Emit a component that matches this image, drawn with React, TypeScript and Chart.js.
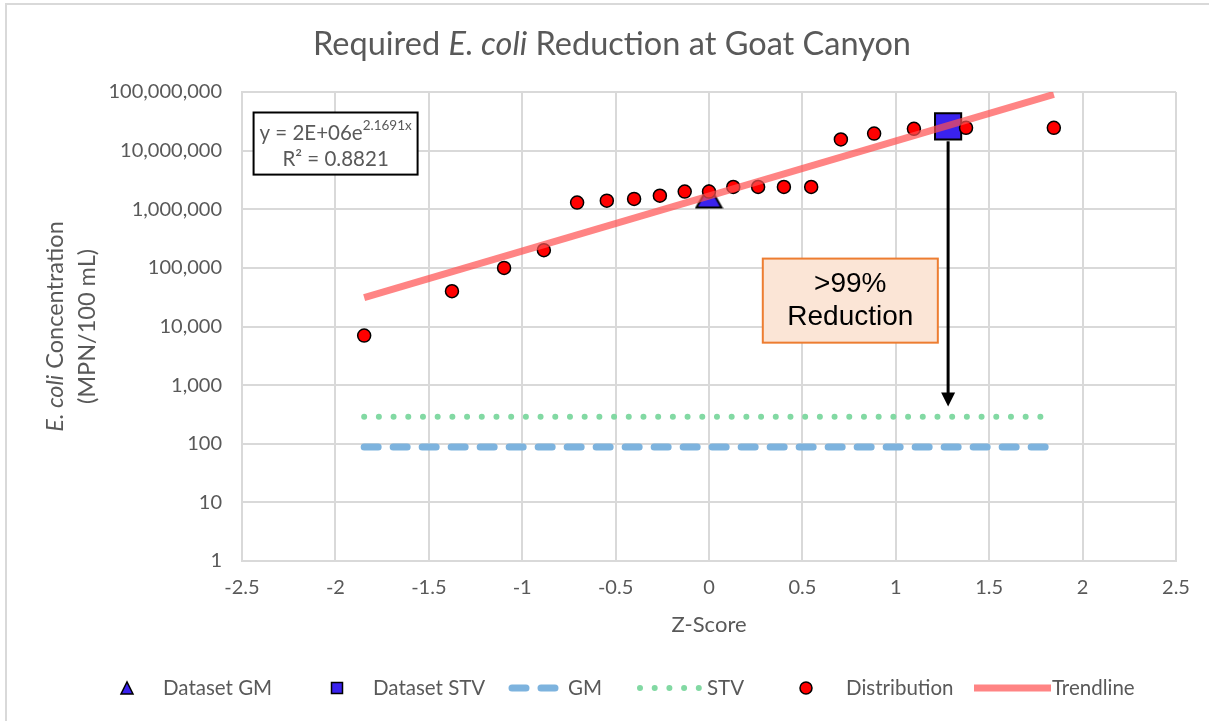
import React, { useEffect, useRef } from "react";
import { Chart, registerables } from "chart.js";

Chart.register(...registerables);

// ---------- data ----------
const distZ = [-1.846, -1.376, -1.097, -0.884, -0.706, -0.547, -0.401, -0.263, -0.13, 0, 0.13, 0.263, 0.401, 0.547, 0.706, 0.884, 1.097, 1.376, 1.846];
const distConc = [7000, 40000, 100000, 200000, 1300000, 1400000, 1500000, 1700000, 2000000, 2000000, 2400000, 2400000, 2400000, 2400000, 15500000, 19500000, 23500000, 24500000, 24500000];

const gmPointZ = [0];
const gmPointConc = [1650000];
const stvPointZ = [1.28];
const stvPointConc = [26000000];

const limitZ = [-1.846, 1.846];
const gmLimit = [88, 88];
const stvLimit = [288, 288];

const trendZ = [-1.846, 1.846];
const trendConc = [31000, 91000000];

const xTickValues = [-2.5, -2, -1.5, -1, -0.5, 0, 0.5, 1, 1.5, 2, 2.5];
const yTickValues = [1, 10, 100, 1000, 10000, 100000, 1000000, 10000000, 100000000];

// annotations (data coordinates)
const arrowZ = 1.28;
const arrowFrom = 26000000;
const arrowTo = 430;
const noteBoxZ = [0.288, 1.225];
const noteBoxConc = [144000, 5300];
const eqBoxZ = [-2.438, -1.56];
const eqBoxConc = [44700000, 3900000];

const FONT = "Lato, 'Noto Sans', sans-serif";
const GRAY = "#595959";
const BLUE_MARK = "#3a22ee";
const GM_COLOR = "#7db3de";
const STV_COLOR = "#82d9a3";
const TREND_COLOR = "rgba(255, 80, 80, 0.7)";

type Part = [string, string];

function drawRich(ctx: CanvasRenderingContext2D, parts: Part[], x: number, y: number, align: "center" | "left") {
  let total = 0;
  for (const [t, f] of parts) {
    ctx.font = f;
    total += ctx.measureText(t).width;
  }
  let cx = align === "center" ? x - total / 2 : x;
  ctx.textAlign = "left";
  for (const [t, f] of parts) {
    ctx.font = f;
    ctx.fillText(t, cx, y);
    cx += ctx.measureText(t).width;
  }
}

function makeTriangle(w: number, h: number, lw: number) {
  const c = document.createElement("canvas");
  c.width = w + lw * 2;
  c.height = h + lw * 2;
  const g = c.getContext("2d")!;
  g.beginPath();
  g.moveTo(lw, lw + h);
  g.lineTo(lw + w, lw + h);
  g.lineTo(lw + w / 2, lw);
  g.closePath();
  g.fillStyle = BLUE_MARK;
  g.fill();
  g.lineWidth = lw;
  g.strokeStyle = "#000";
  g.lineJoin = "miter";
  g.stroke();
  return c;
}

const decorPlugin = {
  id: "decor",
  beforeDraw(chart: any) {
    const ctx = chart.ctx as CanvasRenderingContext2D;
    ctx.save();
    ctx.fillStyle = "#fff";
    ctx.fillRect(0, 0, chart.width, chart.height);
    ctx.strokeStyle = "#d9d9d9";
    ctx.lineWidth = 2;
    ctx.strokeRect(6, 4, chart.width + 20, chart.height + 20);
    ctx.restore();
  },
  afterDatasetsDraw(chart: any) {
    const ctx = chart.ctx as CanvasRenderingContext2D;
    const xs = chart.scales.x;
    const ys = chart.scales.y;
    ctx.save();

    // equation box
    const ex0 = xs.getPixelForValue(eqBoxZ[0]);
    const ex1 = xs.getPixelForValue(eqBoxZ[1]);
    const ey0 = ys.getPixelForValue(eqBoxConc[0]);
    const ey1 = ys.getPixelForValue(eqBoxConc[1]);
    ctx.fillStyle = "#fff";
    ctx.fillRect(ex0, ey0, ex1 - ex0, ey1 - ey0);
    ctx.strokeStyle = "#000";
    ctx.lineWidth = 2;
    ctx.strokeRect(ex0, ey0, ex1 - ex0, ey1 - ey0);
    ctx.fillStyle = GRAY;
    ctx.textBaseline = "alphabetic";
    const ecx = (ex0 + ex1) / 2;
    const f1 = `20.5px ${FONT}`;
    const fs = `13.5px ${FONT}`;
    ctx.font = f1;
    const w1 = ctx.measureText("y = 2E+06e").width;
    ctx.font = fs;
    const w2 = ctx.measureText("2.1691x").width;
    const sx = ecx - (w1 + w2) / 2;
    ctx.font = f1;
    ctx.textAlign = "left";
    ctx.fillText("y = 2E+06e", sx, ey0 + 27);
    ctx.font = fs;
    ctx.fillText("2.1691x", sx + w1, ey0 + 17);
    ctx.font = f1;
    ctx.textAlign = "center";
    ctx.fillText("R\u00B2 = 0.8821", ecx, ey0 + 53);

    // reduction note box
    const nx0 = xs.getPixelForValue(noteBoxZ[0]);
    const nx1 = xs.getPixelForValue(noteBoxZ[1]);
    const ny0 = ys.getPixelForValue(noteBoxConc[0]);
    const ny1 = ys.getPixelForValue(noteBoxConc[1]);
    ctx.fillStyle = "#fbe5d6";
    ctx.fillRect(nx0, ny0, nx1 - nx0, ny1 - ny0);
    ctx.strokeStyle = "#ed7d31";
    ctx.lineWidth = 2;
    ctx.strokeRect(nx0, ny0, nx1 - nx0, ny1 - ny0);
    ctx.fillStyle = "#000";
    ctx.font = `28px 'Liberation Sans', Arial, sans-serif`;
    ctx.textAlign = "center";
    ctx.textBaseline = "middle";
    const ncx = (nx0 + nx1) / 2;
    const ncy = (ny0 + ny1) / 2;
    ctx.fillText(">99%", ncx, ncy - 16);
    ctx.fillText("Reduction", ncx, ncy + 17);

    // arrow
    const ax = xs.getPixelForValue(arrowZ);
    const aTop = ys.getPixelForValue(arrowFrom) + 15;
    const aTip = ys.getPixelForValue(arrowTo);
    ctx.strokeStyle = "#000";
    ctx.lineWidth = 3;
    ctx.beginPath();
    ctx.moveTo(ax, aTop);
    ctx.lineTo(ax, aTip - 12);
    ctx.stroke();
    ctx.fillStyle = "#000";
    ctx.beginPath();
    ctx.moveTo(ax, aTip);
    ctx.lineTo(ax - 7, aTip - 14);
    ctx.lineTo(ax + 7, aTip - 14);
    ctx.closePath();
    ctx.fill();
    ctx.restore();
  },
  afterDraw(chart: any) {
    const ctx = chart.ctx as CanvasRenderingContext2D;
    const area = chart.chartArea;
    ctx.save();
    ctx.fillStyle = GRAY;
    ctx.textBaseline = "middle";

    // title
    drawRich(
      ctx,
      [
        ["Required ", `32.5px ${FONT}`],
        ["E. coli", `italic 32.5px ${FONT}`],
        [" Reduction at Goat Canyon", `32.5px ${FONT}`],
      ],
      612,
      45,
      "center"
    );

    // x title
    ctx.font = `22px ${FONT}`;
    ctx.textAlign = "center";
    ctx.fillText("Z-Score", (area.left + area.right) / 2, 625);

    // y title (rotated)
    ctx.save();
    ctx.translate(0, (area.top + area.bottom) / 2);
    ctx.rotate(-Math.PI / 2);
    drawRich(
      ctx,
      [
        ["E. coli", `italic 23.5px ${FONT}`],
        [" Concentration", `23.5px ${FONT}`],
      ],
      0,
      55,
      "center"
    );
    drawRich(ctx, [["(MPN/100 mL)", `23.5px ${FONT}`]], 0, 87, "center");
    ctx.restore();

    // legend
    const ly = 688;
    const lf = `20.5px ${FONT}`;
    // triangle
    ctx.beginPath();
    ctx.moveTo(121, ly + 6);
    ctx.lineTo(133, ly + 6);
    ctx.lineTo(127, ly - 6);
    ctx.closePath();
    ctx.fillStyle = BLUE_MARK;
    ctx.fill();
    ctx.lineWidth = 1.5;
    ctx.strokeStyle = "#000";
    ctx.stroke();
    // square
    ctx.fillStyle = BLUE_MARK;
    ctx.fillRect(331.5, ly - 5.5, 11, 11);
    ctx.strokeRect(331.5, ly - 5.5, 11, 11);
    // GM dashes
    ctx.save();
    ctx.strokeStyle = GM_COLOR;
    ctx.lineWidth = 7;
    ctx.lineCap = "round";
    ctx.setLineDash([14, 15]);
    ctx.beginPath();
    ctx.moveTo(512, ly);
    ctx.lineTo(566, ly);
    ctx.stroke();
    // STV dots
    ctx.strokeStyle = STV_COLOR;
    ctx.lineWidth = 6;
    ctx.setLineDash([0, 14.7]);
    ctx.beginPath();
    ctx.moveTo(640, ly);
    ctx.lineTo(700, ly);
    ctx.stroke();
    // trendline
    ctx.setLineDash([]);
    ctx.lineCap = "butt";
    ctx.strokeStyle = TREND_COLOR;
    ctx.lineWidth = 7;
    ctx.beginPath();
    ctx.moveTo(974, ly);
    ctx.lineTo(1051, ly);
    ctx.stroke();
    ctx.restore();
    // circle
    ctx.beginPath();
    ctx.arc(806, ly, 6, 0, Math.PI * 2);
    ctx.fillStyle = "#ff0000";
    ctx.fill();
    ctx.lineWidth = 1.5;
    ctx.strokeStyle = "#000";
    ctx.stroke();

    ctx.fillStyle = GRAY;
    ctx.font = lf;
    ctx.textAlign = "left";
    ctx.fillText("Dataset GM", 163, ly);
    ctx.fillText("Dataset STV", 373, ly);
    ctx.fillText("GM", 568, ly);
    ctx.fillText("STV", 707, ly);
    ctx.fillText("Distribution", 846, ly);
    ctx.fillText("Trendline", 1052, ly);
    ctx.restore();
  },
};

const toPts = (xs: number[], ys: number[]) => xs.map((x, i) => ({ x, y: ys[i] }));

export default function App() {
  const ref = useRef<HTMLCanvasElement | null>(null);
  useEffect(() => {
    document.body.style.margin = "0";
    if (!ref.current) return;
    const tri = makeTriangle(25, 22, 2);
    const chart = new Chart(ref.current, {
      type: "scatter",
      data: {
        datasets: [
          {
            label: "Trendline",
            data: toPts(trendZ, trendConc),
            showLine: true,
            borderColor: TREND_COLOR,
            borderWidth: 7,
            pointRadius: 0,
            order: 0,
          },
          {
            label: "Distribution",
            data: toPts(distZ, distConc),
            pointStyle: "circle",
            pointRadius: 6.5,
            pointBackgroundColor: "#ff0000",
            pointBorderColor: "#000",
            pointBorderWidth: 1.5,
            order: 1,
          },
          {
            label: "Dataset GM",
            data: toPts(gmPointZ, gmPointConc),
            pointStyle: tri,
            pointRadius: 14,
            order: 2,
          },
          {
            label: "Dataset STV",
            data: toPts(stvPointZ, stvPointConc),
            pointStyle: "rect",
            pointRadius: 18.5,
            pointBackgroundColor: BLUE_MARK,
            pointBorderColor: "#000",
            pointBorderWidth: 2,
            order: 2,
          },
          {
            label: "GM",
            data: toPts(limitZ, gmLimit),
            showLine: true,
            borderColor: GM_COLOR,
            borderWidth: 7,
            borderDash: [14, 15],
            borderCapStyle: "round",
            pointRadius: 0,
            order: 5,
          },
          {
            label: "STV",
            data: toPts(limitZ, stvLimit),
            showLine: true,
            borderColor: STV_COLOR,
            borderWidth: 6,
            borderDash: [0, 14.7],
            borderCapStyle: "round",
            pointRadius: 0,
            order: 5,
          },
        ],
      } as any,
      options: {
        animation: false,
        responsive: false,
        maintainAspectRatio: false,
        events: [],
        layout: { padding: { left: 0, right: 33, top: 92, bottom: 0 } },
        plugins: {
          legend: { display: false },
          title: { display: false },
          tooltip: { enabled: false },
        },
        scales: {
          x: {
            type: "linear",
            min: -2.5,
            max: 2.5,
            afterBuildTicks: (s: any) => {
              s.ticks = xTickValues.map((v) => ({ value: v }));
            },
            ticks: {
              color: GRAY,
              font: { family: FONT, size: 20 },
              padding: 15,
              callback: (v: any) => String(Number(v)),
            },
            grid: { color: "#d9d9d9", lineWidth: 2, drawTicks: false },
            border: { color: "#d9d9d9", width: 2 },
            afterFit: (s: any) => {
              s.height = 160;
            },
          },
          y: {
            type: "logarithmic",
            min: 1,
            max: 100000000,
            afterBuildTicks: (s: any) => {
              s.ticks = yTickValues.map((v) => ({ value: v }));
            },
            ticks: {
              color: GRAY,
              font: { family: FONT, size: 20 },
              padding: 20,
              callback: (v: any) => Number(v).toLocaleString("en-US"),
            },
            grid: { color: "#d9d9d9", lineWidth: 2, drawTicks: false },
            border: { color: "#d9d9d9", width: 2 },
            afterFit: (s: any) => {
              s.width = 242;
            },
          },
        },
      } as any,
      plugins: [decorPlugin],
    });
    return () => chart.destroy();
  }, []);
  return (
    <div style={{ width: 1209, height: 721 }}>
      <canvas ref={ref} width={1209} height={721} style={{ display: "block" }} />
    </div>
  );
}
